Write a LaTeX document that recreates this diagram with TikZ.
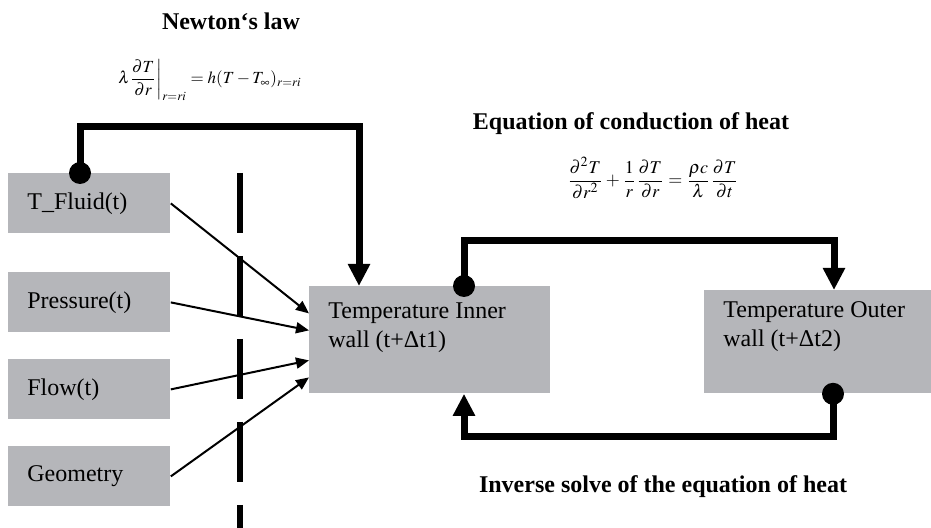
\documentclass[tikz,border=0pt]{standalone}
\usepackage{mathptmx}
\usepackage{fontspec}
\setmainfont{Liberation Serif}
\usepackage{xcolor}
\usetikzlibrary{arrows.meta,calc}
\definecolor{boxgray}{RGB}{181,182,186}

\begin{document}
\begin{tikzpicture}[x=0.5pt,y=-0.5pt,
    txt/.style={font=\fontsize{12}{14.5}\selectfont},
    title/.style={font=\fontsize{12}{14.5}\selectfont\bfseries},
    eqn/.style={font=\fontsize{9}{11}\selectfont},
    inbox/.style={txt,fill=boxgray,anchor=north west,minimum width=81pt,minimum height=30pt,
      text width=62pt,align=left,inner xsep=9.5pt,inner ysep=0pt},
    wallbox/.style={fill=boxgray,anchor=north west,inner sep=0pt},
    walltext/.style={txt,anchor=north west,align=left,inner sep=0pt},
    thin/.style={line width=1pt,-{Triangle[length=6.5pt,width=5.5pt]}},
    heatline/.style={line width=3.5pt,-{Triangle[length=11pt,width=10.5pt]}}]
    \useasboundingbox (0,0) rectangle (931,528);
    \node[inbox] (tfluid) at (8,173) {T\_Fluid(t)};
    \node[inbox] (pressure) at (8,272) {Pressure(t)};
    \node[inbox] (flow) at (8,359) {Flow(t)};
    \node[inbox] (geometry) at (8,446) {Geometry};
    \draw[line width=3.25pt,dash pattern=on 30pt off 11.5pt] (240,173) -- (240,528);
    \node[wallbox,minimum width=120.5pt,minimum height=53.5pt] (inner) at (309,286) {};
    \node[walltext] (innertxt) at ($(inner.north west)+(19,16)$) {Temperature Inner\\wall (t+Δt1)};
    \node[wallbox,minimum width=113.5pt,minimum height=51.5pt] (outer) at (704,290) {};
    \node[walltext] (outertxt) at ($(outer.north west)+(19,11)$) {Temperature Outer\\wall (t+Δt2)};
    \draw[thin] (tfluid.east) -- ($(inner.west)+(0,-26.5)$);
    \draw[thin] (pressure.east) -- ($(inner.west)+(0,-9.5)$);
    \draw[thin] (flow.east) -- ($(inner.west)+(0,20.5)$);
    \draw[thin] (geometry.east) -- ($(inner.west)+(0,37.5)$);
    \coordinate (nsrc) at ($(tfluid.north west)+(72,0)$);
    \coordinate (ndst) at ($(inner.north west)+(50,0)$);
    \coordinate (csrc) at ($(inner.north west)+(155,0)$);
    \coordinate (cdst) at ($(outer.north west)+(130,0)$);
    \coordinate (isrc) at ($(outer.south west)+(129,0)$);
    \coordinate (idst) at ($(inner.south west)+(155,0)$);
    \draw[heatline] (nsrc) -- ++(0,-46) -| (ndst);
    \draw[heatline] (csrc) -- ++(0,-45) -| (cdst);
    \draw[heatline] (isrc) -- ++(0,43) -| (idst);
    \foreach \p in {nsrc,csrc,isrc}{\fill (\p) circle (5.5pt);}
    \node[title] (newton) at (231,21) {Newton‘s law};
    \node[eqn,font=\fontsize{8.5}{10}\selectfont] (newtoneq) at (210,80) {$\displaystyle \lambda\frac{\partial T}{\partial r}\bigg|_{r=ri} = h(T-T_\infty)_{r=ri}$};
    \node[title] (conduction) at (631,124) {Equation of conduction of heat};
    \node[eqn] (conductioneq) at (653,178) {$\displaystyle \frac{\partial^2 T}{\partial r^2}+\frac{1}{r}\frac{\partial T}{\partial r}=\frac{\rho c}{\lambda}\frac{\partial T}{\partial t}$};
    \node[title] (inverse) at (663,487) {Inverse solve of the equation of heat};
  \end{tikzpicture}
\end{document}
